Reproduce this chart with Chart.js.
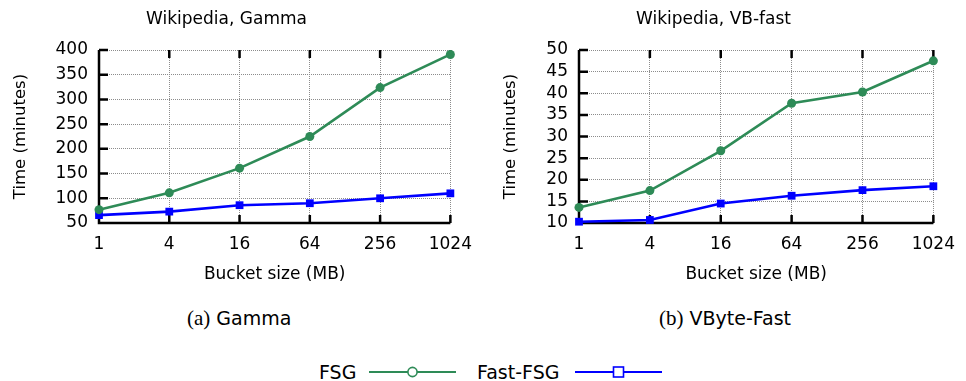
<!DOCTYPE html>
<html>
<head>
<meta charset="utf-8">
<script src="https://cdn.jsdelivr.net/npm/chart.js@4.4.1/dist/chart.umd.min.js"></script>
<style>
    body { margin: 0; background: #fff; }
    #page { position: relative; width: 966px; height: 381px; font-family: 'DejaVu Sans', sans-serif; color: #000; }
    canvas { position: absolute; top: 0; }
    .caption { position: absolute; top: 305px; font-size: 19px; line-height: 26px; white-space: nowrap; }
    .caption .tag { font-family: 'Liberation Serif', serif; font-size: 21px; }
    #legend { position: absolute; top: 358px; left: 0; height: 28px; }
    #legend span { position: absolute; top: 0; font-size: 19px; line-height: 28px; white-space: nowrap; }
    #legend svg { position: absolute; top: 0; }
</style>
</head>
<body>
<div id="page">
    <canvas id="gammaChart" width="483" height="300" style="left:0"></canvas>
    <canvas id="vbChart" width="483" height="300" style="left:483px"></canvas>
    <div class="caption" style="left:187px"><span class="tag">(a)</span> Gamma</div>
    <div class="caption" style="left:659px"><span class="tag">(b)</span> VByte-Fast</div>
    <div id="legend">
        <span style="left:319px">FSG</span>
        <svg style="left:369px" width="88" height="28">
            <line x1="0" y1="14" x2="87" y2="14" stroke="#2e8b57" stroke-width="2"/>
            <circle cx="43.5" cy="14" r="4.6" fill="#fff" stroke="#2e8b57" stroke-width="1.6"/>
        </svg>
        <span style="left:477px">Fast-FSG</span>
        <svg style="left:575px" width="88" height="28">
            <line x1="0" y1="14" x2="87" y2="14" stroke="#0000ff" stroke-width="2"/>
            <rect x="38.5" y="9" width="10" height="10" fill="#fff" stroke="#0000ff" stroke-width="1.6"/>
        </svg>
    </div>
</div>
<script>
// Data
const bucketSizes = ['1', '4', '16', '64', '256', '1024'];

const gammaFsg = [77, 111, 161, 225, 324, 391];
const gammaFastFsg = [66, 73, 86, 90, 100, 110];

const vbFsg = [13.6, 17.5, 26.7, 37.7, 40.3, 47.5];
const vbFastFsg = [10.3, 10.7, 14.5, 16.3, 17.6, 18.5];

const gammaRange = { min: 50, max: 400, step: 50 };
const vbRange = { min: 10, max: 50, step: 5 };

Chart.defaults.font.family = "'DejaVu Sans', sans-serif";
Chart.defaults.color = '#000';

// gnuplot-style frame: solid left/bottom axes with inward tick marks
const innerTicks = {
    id: 'innerTicks',
    beforeDatasetsDraw(chart) {
        const { ctx, chartArea: a, scales } = chart;
        const x = scales.x, y = scales.y;
        ctx.save();
        ctx.strokeStyle = '#000';
        ctx.lineWidth = 2.5;
        ctx.beginPath();
        ctx.moveTo(a.left, a.top);
        ctx.lineTo(a.left, a.bottom);
        ctx.lineTo(a.right, a.bottom);
        x.ticks.forEach((t, i) => {
            const px = x.getPixelForTick(i);
            ctx.moveTo(px, a.bottom);
            ctx.lineTo(px, a.bottom - 8);
            ctx.moveTo(px, a.top);
            ctx.lineTo(px, a.top + 8);
        });
        y.ticks.forEach((t, i) => {
            const py = y.getPixelForTick(i);
            ctx.moveTo(a.left, py);
            ctx.lineTo(a.left + 9, py);
        });
        ctx.stroke();
        ctx.restore();
    }
};

function makeChart(id, title, fsg, fastFsg, range, yAxisWidth, yTitlePad, rightPad) {
    return new Chart(document.getElementById(id), {
        type: 'line',
        data: {
            labels: bucketSizes,
            datasets: [{
                label: 'FSG',
                data: fsg,
                borderColor: '#2e8b57',
                backgroundColor: '#2e8b57',
                borderWidth: 2.6,
                pointStyle: 'circle',
                pointRadius: 4.5,
                pointBorderWidth: 0,
                clip: false
            }, {
                label: 'Fast-FSG',
                data: fastFsg,
                borderColor: '#0000ff',
                backgroundColor: '#0000ff',
                borderWidth: 2.6,
                pointStyle: 'rect',
                pointRadius: 5.5,
                pointBorderWidth: 0,
                clip: false
            }]
        },
        options: {
            responsive: false,
            animation: false,
            events: [],
            layout: {
                padding: { left: 0, right: rightPad, top: 0, bottom: 0 }
            },
            plugins: {
                legend: { display: false },
                tooltip: { enabled: false },
                title: {
                    display: true,
                    text: title,
                    font: { size: 17, weight: 'normal' },
                    padding: { top: 9, bottom: 20.6 }
                }
            },
            scales: {
                x: {
                    type: 'category',
                    offset: false,
                    afterFit: scale => { scale.height = 77; },
                    grid: { color: '#8c8c8c', lineWidth: 1, drawTicks: false },
                    border: { display: false, dash: [1, 1] },
                    ticks: { font: { size: 17 }, padding: 11, maxRotation: 0 },
                    title: {
                        display: true,
                        text: 'Bucket size (MB)',
                        font: { size: 17 },
                        padding: { top: 0, bottom: 14.8 }
                    }
                },
                y: {
                    min: range.min,
                    max: range.max,
                    afterFit: scale => { scale.width = yAxisWidth; },
                    grid: { color: '#8c8c8c', lineWidth: 1, drawTicks: false },
                    border: { display: false, dash: [1, 1] },
                    ticks: { stepSize: range.step, font: { size: 17, lineHeight: 1 }, padding: 11 },
                    title: {
                        display: true,
                        text: 'Time (minutes)',
                        font: { size: 16.5 },
                        padding: { top: yTitlePad, bottom: 0 }
                    }
                }
            }
        },
        plugins: [innerTicks]
    });
}

makeChart('gammaChart', 'Wikipedia, Gamma', gammaFsg, gammaFastFsg, gammaRange, 99, 11, 30);
makeChart('vbChart', 'Wikipedia, VB-fast', vbFsg, vbFastFsg, vbRange, 96, 18, 22);
</script>
</body>
</html>
